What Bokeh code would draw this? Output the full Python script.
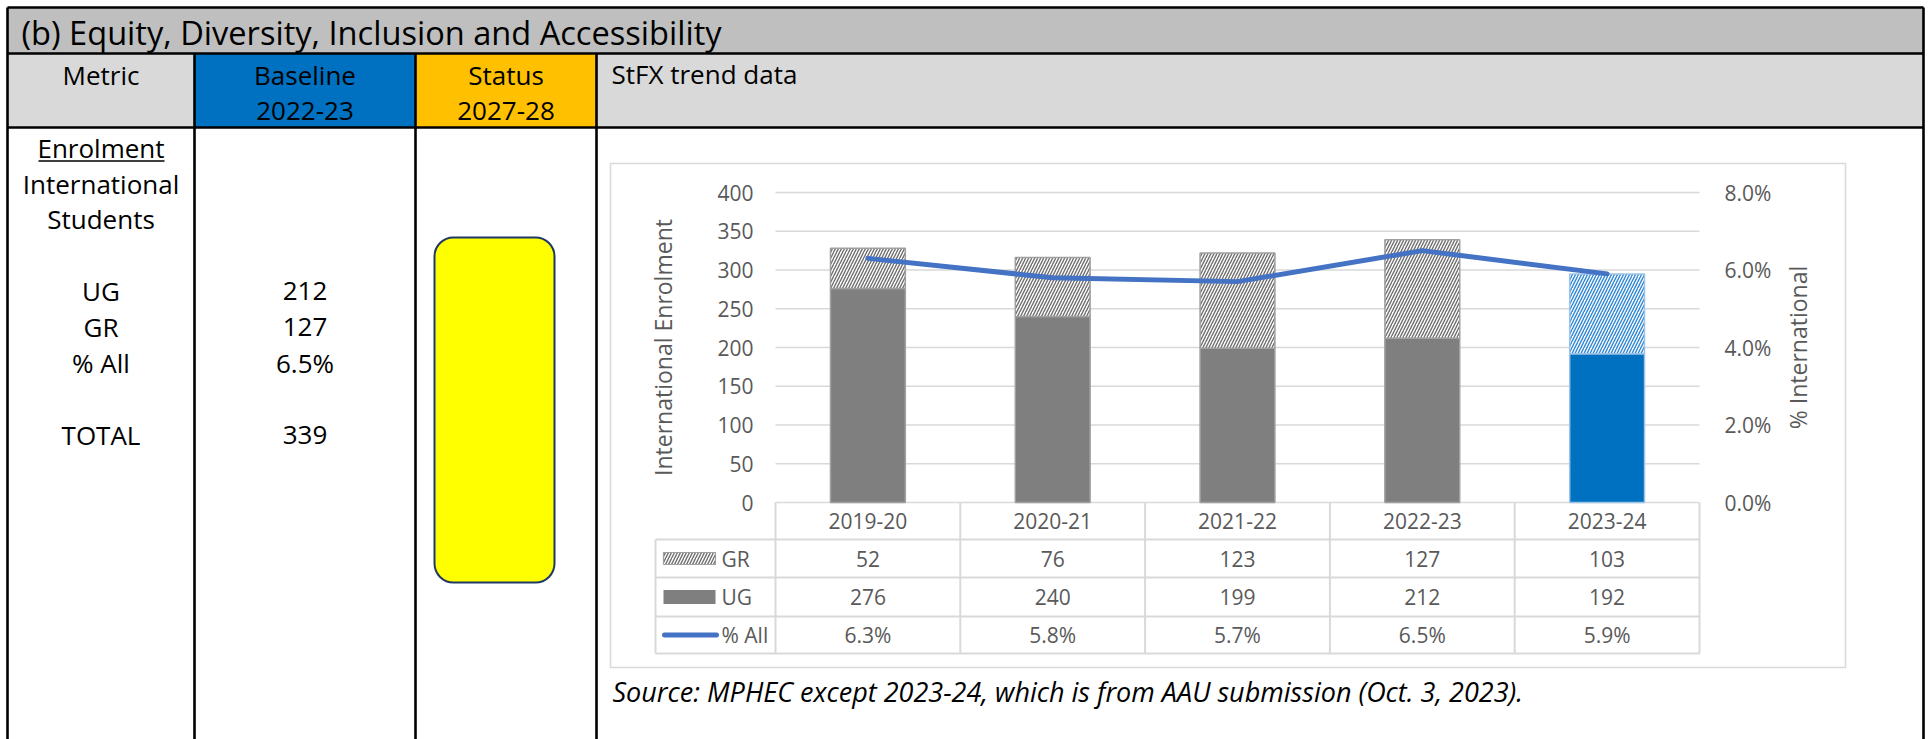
import math
from bokeh.plotting import figure
from bokeh.models import Range1d, ColumnDataSource
from bokeh.core.properties import value
from bokeh.embed import file_html
from bokeh.resources import INLINE

# ---------------- data ----------------
years = ["2019-20", "2020-21", "2021-22", "2022-23", "2023-24"]
ug_counts = [276, 240, 199, 212, 192]
gr_counts = [52, 76, 123, 127, 103]
pct_international = [6.3, 5.8, 5.7, 6.5, 5.9]
enrol_ticks = [0, 50, 100, 150, 200, 250, 300, 350, 400]
pct_ticks = [0.0, 2.0, 4.0, 6.0, 8.0]

title_text = "(b) Equity, Diversity, Inclusion and Accessibility"
header_metric = "Metric"
header_baseline = ["Baseline", "2022-23"]
header_status = ["Status", "2027-28"]
header_trend = "StFX trend data"
metric_heading = "Enrolment"
metric_lines = ["International", "Students"]
metric_rows = ["UG", "GR", "% All", "TOTAL"]
baseline_rows = ["212", "127", "6.5%", "339"]
source_note = "Source: MPHEC except 2023-24, which is from AAU submission (Oct. 3, 2023)."
legend_names = ["GR", "UG", "% All"]

# ---------------- layout (page pixels) ----------------
W, H = 1931, 739
OX, OY = 0, 0
FONT = value("Open Sans")

p = figure(width=W, height=H, x_range=Range1d(OX, OX + W), y_range=Range1d(OY + H, OY),
           output_backend="svg", toolbar_location=None, x_axis_location=None,
           y_axis_location=None, min_border=0, outline_line_color=None)
p.xgrid.visible = False
p.ygrid.visible = False
p.background_fill_color = "white"
p.border_fill_color = "white"

TL, TR, TT, TB = 7, 1923, 7, 760
TITLE_B, HEAD_B = 53, 127
C1, C2, C3 = 194, 415, 596

# fills
p.quad(left=[TL], right=[TR], top=[TT], bottom=[TITLE_B], fill_color="#bfbfbf", line_color=None)
p.quad(left=[TL, C1, C2, C3], right=[C1, C2, C3, TR], top=[TITLE_B] * 4, bottom=[HEAD_B] * 4,
       fill_color=["#d9d9d9", "#0070c0", "#ffc000", "#d9d9d9"], line_color=None)

# borders
BW = 2.6
p.segment(x0=[TL, TL, TL, TL, TR, C1, C2, C3], x1=[TR, TR, TR, TL, TR, C1, C2, C3],
          y0=[TT, TITLE_B, HEAD_B, TT, TT, TITLE_B, TITLE_B, TITLE_B],
          y1=[TT, TITLE_B, HEAD_B, TB, TB, TB, TB, TB], line_color="black", line_width=BW)

def txt(x, y, t, size, align="left", color="black", style="normal", angle=0, **kw):
    p.text(x=x, y=y, text=t, text_font=FONT, text_font_size=value(f"{size}px"),
           text_align=align, text_baseline="middle", text_color=color,
           text_font_style=style, angle=angle, **kw)

# title and headers
txt([21], [32], [title_text], 32.6)
mx, bx, sx = (TL + C1) / 2, (C1 + C2) / 2, (C2 + C3) / 2
txt([mx], [74], [header_metric], 26, "center")
txt([bx, bx], [74, 110], header_baseline, 26, "center")
txt([sx, sx], [74, 110], header_status, 26, "center")
txt([611], [73], [header_trend], 26)

# body columns
txt([mx], [147], [metric_heading], 26, "center")
p.segment(x0=[38], x1=[164], y0=[160.5], y1=[160.5], line_color="black", line_width=1.6)
txt([mx] * 2, [183, 218], metric_lines, 26, "center")
row_mid = [290, 326, 362, 434]
txt([mx] * 4, row_mid, metric_rows, 26, "center")
txt([bx] * 4, row_mid, baseline_rows, 26, "center")

# status indicator
p.quad(left=[434], right=[554], top=[237], bottom=[582], fill_color="#ffff00",
       line_color="#1f3864", line_width=2, border_radius=19)

# ---------------- chart ----------------
BOX_L, BOX_R, BOX_T, BOX_B = 610, 1845, 163, 667
p.quad(left=[BOX_L], right=[BOX_R], top=[BOX_T], bottom=[BOX_B], fill_color=None,
       line_color="#d9d9d9", line_width=1.5)

PL, PR = 775, 1699
Y0, YTOP = 502, 192
n = len(years)
kx = (PR - PL) / n
p.extra_x_ranges = {"cat": Range1d(-0.5 - (PL - OX) / kx, n - 0.5 + (OX + W - PR) / kx)}
ky = (Y0 - YTOP) / enrol_ticks[-1]
kp = (Y0 - YTOP) / pct_ticks[-1]
p.extra_y_ranges = {
    "enrol": Range1d(-(OY + H - Y0) / ky, enrol_ticks[-1] + (YTOP - OY) / ky),
    "pct": Range1d(-(OY + H - Y0) / kp, pct_ticks[-1] + (YTOP - OY) / kp),
}

GRID = "#d9d9d9"
TXT = "#595959"
# gridlines
p.segment(x0=[-0.5] * len(enrol_ticks), x1=[n - 0.5] * len(enrol_ticks), y0=enrol_ticks,
          y1=enrol_ticks, x_range_name="cat", y_range_name="enrol", line_color=GRID, line_width=1.6)

idx = list(range(n))
ug_fill = ["#7f7f7f"] * (n - 1) + ["#0070c0"]
ug_line = ["#a0a0a0"] * (n - 1) + ["#9dc3e6"]
hatch_col = ["#6f6f6f"] * (n - 1) + ["#2e86d6"]
src = ColumnDataSource(dict(x=idx, ug=ug_counts, gr_top=[u + g for u, g in zip(ug_counts, gr_counts)],
                            fill=ug_fill, edge=ug_line, hatch=hatch_col))
BARW = 0.405
p.vbar(x="x", bottom=0, top="ug", width=BARW, source=src, x_range_name="cat", y_range_name="enrol",
       fill_color="fill", line_color="edge", line_width=1.5)
p.vbar(x="x", bottom="ug", top="gr_top", width=BARW, source=src, x_range_name="cat",
       y_range_name="enrol", fill_color="white", hatch_pattern="/", hatch_color="hatch",
       hatch_scale=6, hatch_weight=1.4, line_color="edge", line_width=1.5)
p.line(x=idx, y=pct_international, x_range_name="cat", y_range_name="pct",
       line_color="#4472c4", line_width=5, line_join="round", line_cap="round")

# tick labels
txt([753] * len(enrol_ticks), enrol_ticks, [str(t) for t in enrol_ticks], 21, "right",
    TXT, y_range_name="enrol")
txt([1724] * len(pct_ticks), pct_ticks, [f"{t:.1f}%" for t in pct_ticks], 21, "left",
    TXT, y_range_name="pct")
txt([662], [(Y0 + YTOP) / 2], ["International Enrolment"], 23, "center", TXT, angle=math.pi / 2)
txt([1797], [(Y0 + YTOP) / 2], ["% International"], 23, "center", TXT, angle=math.pi / 2)

# data table under the chart
ROWS = [502, 539, 577, 616, 653]
LEG_L = 655
p.segment(x0=[LEG_L] * 4, x1=[PR] * 4, y0=ROWS[1:], y1=ROWS[1:], line_color=GRID, line_width=2)
p.segment(x0=[LEG_L], x1=[LEG_L], y0=[ROWS[1]], y1=[ROWS[-1]], line_color=GRID, line_width=2)
p.segment(x0=[i - 0.5 for i in range(n + 1)], x1=[i - 0.5 for i in range(n + 1)],
          y0=[ROWS[0]] * (n + 1), y1=[ROWS[-1]] * (n + 1), x_range_name="cat",
          line_color=GRID, line_width=2)
centers = [(a + b) / 2 for a, b in zip(ROWS[:-1], ROWS[1:])]
txt(idx, [centers[0]] * n, years, 21, "center", TXT, x_range_name="cat")
txt(idx, [centers[1]] * n, [str(v) for v in gr_counts], 21, "center", TXT, x_range_name="cat")
txt(idx, [centers[2]] * n, [str(v) for v in ug_counts], 21, "center", TXT, x_range_name="cat")
txt(idx, [centers[3]] * n, [f"{v:.1f}%" for v in pct_international], 21, "center", TXT,
    x_range_name="cat")

# legend keys
p.quad(left=[663], right=[715], top=[centers[1] - 6], bottom=[centers[1] + 6], fill_color="white",
       hatch_pattern="/", hatch_color="#6f6f6f", hatch_scale=6, hatch_weight=1.4,
       line_color="#a0a0a0", line_width=1.2)
p.quad(left=[663], right=[715], top=[centers[2] - 7], bottom=[centers[2] + 7], fill_color="#7f7f7f",
       line_color=None)
p.segment(x0=[664], x1=[716], y0=[centers[3]], y1=[centers[3]], line_color="#4472c4",
          line_width=5, line_cap="round")
txt([721] * 3, centers[1:], legend_names, 21, "left", TXT)

# source note
txt([612], [691], [source_note], 27, style="italic")

open("out.html", "w").write(file_html(p, INLINE))
